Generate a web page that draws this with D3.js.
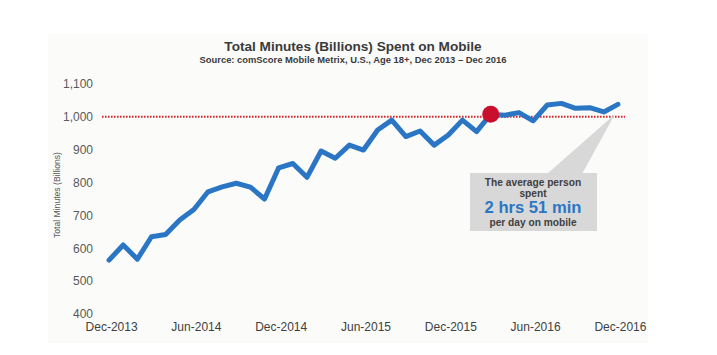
<!DOCTYPE html>
<html>
<head>
<meta charset="utf-8">
<script src="https://cdn.jsdelivr.net/npm/d3@7"></script>
<style>
  html, body { margin: 0; padding: 0; background: #ffffff; }
  svg { display: block; font-family: "Liberation Sans", Arial, sans-serif; }
</style>
</head>
<body>
<svg id="chart" width="717" height="355"></svg>
<script>
const months = ["Dec-2013","Jan-2014","Feb-2014","Mar-2014","Apr-2014","May-2014","Jun-2014","Jul-2014","Aug-2014","Sep-2014","Oct-2014","Nov-2014",
  "Dec-2014","Jan-2015","Feb-2015","Mar-2015","Apr-2015","May-2015","Jun-2015","Jul-2015","Aug-2015","Sep-2015","Oct-2015","Nov-2015",
  "Dec-2015","Jan-2016","Feb-2016","Mar-2016","Apr-2016","May-2016","Jun-2016","Jul-2016","Aug-2016","Sep-2016","Oct-2016","Nov-2016","Dec-2016"];
const minutes = [564,610,567,635,642,686,718,772,787,798,786,750,
  845,858,816,896,874,914,899,960,990,940,957,914,
  945,990,955,1008,1005,1013,988,1036,1041,1026,1028,1015,1038];
const xTickLabels = ["Dec-2013","Jun-2014","Dec-2014","Jun-2015","Dec-2015","Jun-2016","Dec-2016"];
const yTickValues = [400,500,600,700,800,900,1000,1100];
const referenceValue = 1000;
const highlightMonth = "Mar-2016";
const title = "Total Minutes (Billions) Spent on Mobile";
const subtitle = "Source: comScore Mobile Metrix, U.S., Age 18+, Dec 2013 \u2013 Dec 2016";
const yAxisTitle = "Total Minutes (Billions)";
const calloutLines = ["The average person", "spent", "2 hrs 51 min", "per day on mobile"];

const svg = d3.select("#chart");

// panel
svg.append("rect").attr("x", 48).attr("y", 34).attr("width", 600).attr("height", 309)
  .attr("fill", "#fbfcfa");

const x = d3.scalePoint().domain(months).range([102, 625]).padding(0.5);
const y = d3.scaleLinear().domain([400, 1100]).range([314, 84]);

// titles
svg.append("text").attr("x", 353).attr("y", 51).attr("text-anchor", "middle")
  .attr("font-size", 13.6).attr("font-weight", "bold").attr("fill", "#3a3a3a").text(title);
svg.append("text").attr("x", 353).attr("y", 63).attr("text-anchor", "middle")
  .attr("font-size", 9.4).attr("font-weight", "bold").attr("fill", "#3a3a3a").text(subtitle);

// y axis
const yAxis = svg.append("g").attr("transform", "translate(102,0)")
  .call(d3.axisLeft(y).tickValues(yTickValues).tickSize(0).tickPadding(9)
    .tickFormat(d3.format(",")));
yAxis.select(".domain").remove();
yAxis.selectAll("text").attr("font-size", 12).attr("fill", "#595959")
  .attr("font-family", "'Liberation Sans', Arial, sans-serif");

svg.append("text").attr("transform", "translate(60,195) rotate(-90)")
  .attr("text-anchor", "middle").attr("font-size", 8.6).attr("fill", "#595959").text(yAxisTitle);

// x axis
const xAxis = svg.append("g").attr("transform", "translate(0,314)")
  .call(d3.axisBottom(x).tickValues(xTickLabels).tickSize(0).tickPadding(8));
xAxis.select(".domain").remove();
xAxis.selectAll("text").attr("font-size", 12).attr("fill", "#404040").attr("dx", 2)
  .attr("font-family", "'Liberation Sans', Arial, sans-serif");

// reference dotted line
svg.append("line").attr("x1", 102).attr("x2", 625)
  .attr("y1", y(referenceValue)).attr("y2", y(referenceValue))
  .attr("stroke", "#d9262c").attr("stroke-width", 2).attr("stroke-dasharray", "1.6,1.4");

// callout wedge + box
const lastM = months[months.length - 1];
svg.append("path")
  .attr("d", `M547,174 L582,174 L${x(lastM) - 3},${y(minutes[minutes.length - 1]) + 10} Z`)
  .attr("fill", "#d8d8d8");
svg.append("rect").attr("x", 470).attr("y", 173).attr("width", 127).attr("height", 58)
  .attr("fill", "#d8d8d8");

// line
const line = d3.line().x((d, i) => x(months[i])).y(d => y(d));
svg.append("path").datum(minutes).attr("d", line)
  .attr("fill", "none").attr("stroke", "#2a76c4").attr("stroke-width", 5)
  .attr("stroke-linejoin", "round").attr("stroke-linecap", "round");

// highlight dot
const hi = months.indexOf(highlightMonth);
svg.append("circle").attr("cx", x(highlightMonth)).attr("cy", y(minutes[hi]))
  .attr("r", 8.5).attr("fill", "#c8102e");

// callout text
const cx = 533;
svg.append("text").attr("x", cx).attr("y", 185.5).attr("text-anchor", "middle")
  .attr("font-size", 10.2).attr("font-weight", "bold").attr("fill", "#404040").text(calloutLines[0]);
svg.append("text").attr("x", cx).attr("y", 196.8).attr("text-anchor", "middle")
  .attr("font-size", 10.2).attr("font-weight", "bold").attr("fill", "#404040").text(calloutLines[1]);
svg.append("text").attr("x", cx).attr("y", 213).attr("text-anchor", "middle")
  .attr("font-size", 16.6).attr("font-weight", "bold").attr("fill", "#2a76c4").text(calloutLines[2]);
svg.append("text").attr("x", cx).attr("y", 225.5).attr("text-anchor", "middle")
  .attr("font-size", 10.2).attr("font-weight", "bold").attr("fill", "#404040").text(calloutLines[3]);
</script>
</body>
</html>
